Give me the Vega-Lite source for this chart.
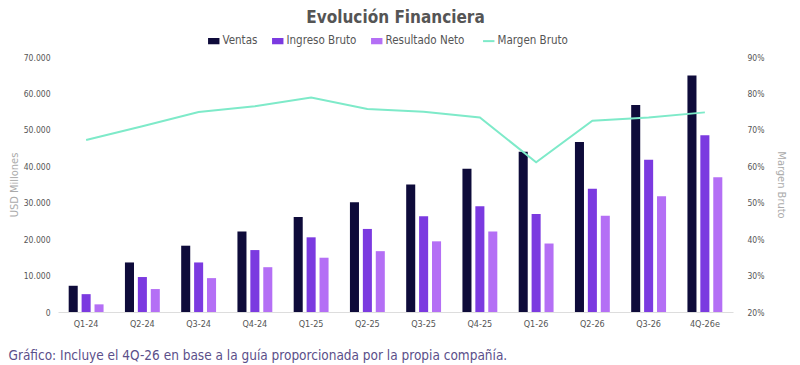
{
  "$schema": "https://vega.github.io/schema/vega-lite/v6.json",
  "autosize": "none",
  "width": 675,
  "height": 255,
  "padding": {"left": 58, "top": 57, "right": 67, "bottom": 53},
  "background": "white",
  "config": {
    "font": "DejaVu Sans Condensed",
    "view": {"stroke": null}
  },
  "title": {
    "text": "Evolución Financiera",
    "fontSize": 17,
    "fontWeight": "bold",
    "color": "#555555",
    "anchor": "middle",
    "offset": 8,
    "font": "DejaVu Sans Condensed"
  },
  "datasets": {
    "bars": [
      {"q": "Q1-24", "serie": "Ventas", "v": 7200},
      {"q": "Q1-24", "serie": "Ingreso Bruto", "v": 4900},
      {"q": "Q1-24", "serie": "Resultado Neto", "v": 2100},
      {"q": "Q2-24", "serie": "Ventas", "v": 13600},
      {"q": "Q2-24", "serie": "Ingreso Bruto", "v": 9600},
      {"q": "Q2-24", "serie": "Resultado Neto", "v": 6300},
      {"q": "Q3-24", "serie": "Ventas", "v": 18200},
      {"q": "Q3-24", "serie": "Ingreso Bruto", "v": 13600},
      {"q": "Q3-24", "serie": "Resultado Neto", "v": 9300},
      {"q": "Q4-24", "serie": "Ventas", "v": 22100},
      {"q": "Q4-24", "serie": "Ingreso Bruto", "v": 17000},
      {"q": "Q4-24", "serie": "Resultado Neto", "v": 12300},
      {"q": "Q1-25", "serie": "Ventas", "v": 26100},
      {"q": "Q1-25", "serie": "Ingreso Bruto", "v": 20500},
      {"q": "Q1-25", "serie": "Resultado Neto", "v": 14900},
      {"q": "Q2-25", "serie": "Ventas", "v": 30100},
      {"q": "Q2-25", "serie": "Ingreso Bruto", "v": 22800},
      {"q": "Q2-25", "serie": "Resultado Neto", "v": 16700},
      {"q": "Q3-25", "serie": "Ventas", "v": 35000},
      {"q": "Q3-25", "serie": "Ingreso Bruto", "v": 26300},
      {"q": "Q3-25", "serie": "Resultado Neto", "v": 19400},
      {"q": "Q4-25", "serie": "Ventas", "v": 39300},
      {"q": "Q4-25", "serie": "Ingreso Bruto", "v": 29000},
      {"q": "Q4-25", "serie": "Resultado Neto", "v": 22100},
      {"q": "Q1-26", "serie": "Ventas", "v": 44000},
      {"q": "Q1-26", "serie": "Ingreso Bruto", "v": 26900},
      {"q": "Q1-26", "serie": "Resultado Neto", "v": 18800},
      {"q": "Q2-26", "serie": "Ventas", "v": 46700},
      {"q": "Q2-26", "serie": "Ingreso Bruto", "v": 33800},
      {"q": "Q2-26", "serie": "Resultado Neto", "v": 26400},
      {"q": "Q3-26", "serie": "Ventas", "v": 56800},
      {"q": "Q3-26", "serie": "Ingreso Bruto", "v": 41800},
      {"q": "Q3-26", "serie": "Resultado Neto", "v": 31800},
      {"q": "4Q-26e", "serie": "Ventas", "v": 64900},
      {"q": "4Q-26e", "serie": "Ingreso Bruto", "v": 48500},
      {"q": "4Q-26e", "serie": "Resultado Neto", "v": 37000}
    ],
    "margen": [
      {"q": "Q1-24", "serie": "Margen Bruto", "m": 0.672},
      {"q": "Q2-24", "serie": "Margen Bruto", "m": 0.710},
      {"q": "Q3-24", "serie": "Margen Bruto", "m": 0.749},
      {"q": "Q4-24", "serie": "Margen Bruto", "m": 0.765},
      {"q": "Q1-25", "serie": "Margen Bruto", "m": 0.789},
      {"q": "Q2-25", "serie": "Margen Bruto", "m": 0.757},
      {"q": "Q3-25", "serie": "Margen Bruto", "m": 0.750},
      {"q": "Q4-25", "serie": "Margen Bruto", "m": 0.734},
      {"q": "Q1-26", "serie": "Margen Bruto", "m": 0.611},
      {"q": "Q2-26", "serie": "Margen Bruto", "m": 0.725},
      {"q": "Q3-26", "serie": "Margen Bruto", "m": 0.734},
      {"q": "4Q-26e", "serie": "Margen Bruto", "m": 0.748}
    ]
  },
  "encoding": {
    "x": {
      "field": "q",
      "type": "nominal",
      "sort": null,
      "scale": {"paddingInner": 0.38, "paddingOuter": 0.19},
      "axis": {
        "title": "Gráfico: Incluye el 4Q-26 en base a la guía proporcionada por la propia compañía.",
        "titleFont": "DejaVu Sans Condensed",
        "titleFontSize": 13.5,
        "titleFontWeight": "normal",
        "titleColor": "#5b4f8a",
        "titleAnchor": "start",
        "titleAlign": "left",
        "titleX": -50,
        "titleY": 36,
        "labelAngle": 0,
        "labelFontSize": 9,
        "labelColor": "#555555",
        "labelPadding": 7,
        "domainColor": "#dddddd",
        "ticks": false,
        "grid": false
      }
    }
  },
  "layer": [
    {
      "data": {"name": "bars"},
      "mark": {"type": "bar"},
      "encoding": {
        "xOffset": {
          "field": "serie",
          "type": "nominal",
          "sort": ["Ventas", "Ingreso Bruto", "Resultado Neto"],
          "scale": {"paddingInner": 0.3}
        },
        "y": {
          "field": "v",
          "type": "quantitative",
          "scale": {"domain": [0, 70000]},
          "axis": {
            "title": "USD Millones",
            "titleFontSize": 11,
            "titleFontWeight": "normal",
            "titleColor": "#aaaaaa",
            "titlePadding": 4,
            "values": [0, 10000, 20000, 30000, 40000, 50000, 60000, 70000],
            "labelExpr": "replace(format(datum.value, ','), ',', '.')",
            "labelFontSize": 8.5,
            "labelColor": "#555555",
            "labelPadding": 8,
            "domain": false,
            "ticks": false,
            "grid": false
          }
        },
        "color": {
          "field": "serie",
          "type": "nominal",
          "scale": {
            "domain": ["Ventas", "Ingreso Bruto", "Resultado Neto", "Margen Bruto"],
            "range": ["#0e0b3a", "#7b3ae0", "#b46ff5", "#7eeac9"]
          },
          "legend": {
            "orient": "none",
            "legendX": 150,
            "legendY": -22,
            "direction": "horizontal",
            "title": null,
            "labelFontSize": 11.5,
            "labelColor": "#555555",
            "labelFont": "DejaVu Sans Condensed",
            "labelOffset": 3,
            "columnPadding": 14,
            "symbolOffset": 0,
            "encode": {
              "symbols": {
                "update": {
                  "shape": {"signal": "datum.value === 'Margen Bruto' ? 'stroke' : 'M-1,-0.55H1V0.55H-1Z'"},
                  "strokeWidth": {"signal": "datum.value === 'Margen Bruto' ? 2 : 0"},
                  "stroke": {"signal": "datum.value === 'Margen Bruto' ? '#7eeac9' : null"},
                  "size": {"value": 130}
                }
              }
            }
          }
        }
      }
    },
    {
      "data": {"name": "margen"},
      "mark": {"type": "line", "strokeWidth": 2},
      "encoding": {
        "y": {
          "field": "m",
          "type": "quantitative",
          "scale": {"domain": [0.2, 0.9]},
          "axis": {
            "orient": "right",
            "title": "Margen Bruto",
            "titleFontSize": 11,
            "titleFontWeight": "normal",
            "titleColor": "#aaaaaa",
            "titlePadding": 12,
            "format": ".0%",
            "values": [0.2, 0.3, 0.4, 0.5, 0.6, 0.7, 0.8, 0.9],
            "labelFontSize": 8.5,
            "labelColor": "#555555",
            "labelPadding": 14,
            "domain": false,
            "ticks": false,
            "grid": false
          }
        },
        "color": {"field": "serie", "type": "nominal"}
      }
    }
  ],
  "resolve": {"scale": {"y": "independent"}, "axis": {"y": "independent"}}
}
